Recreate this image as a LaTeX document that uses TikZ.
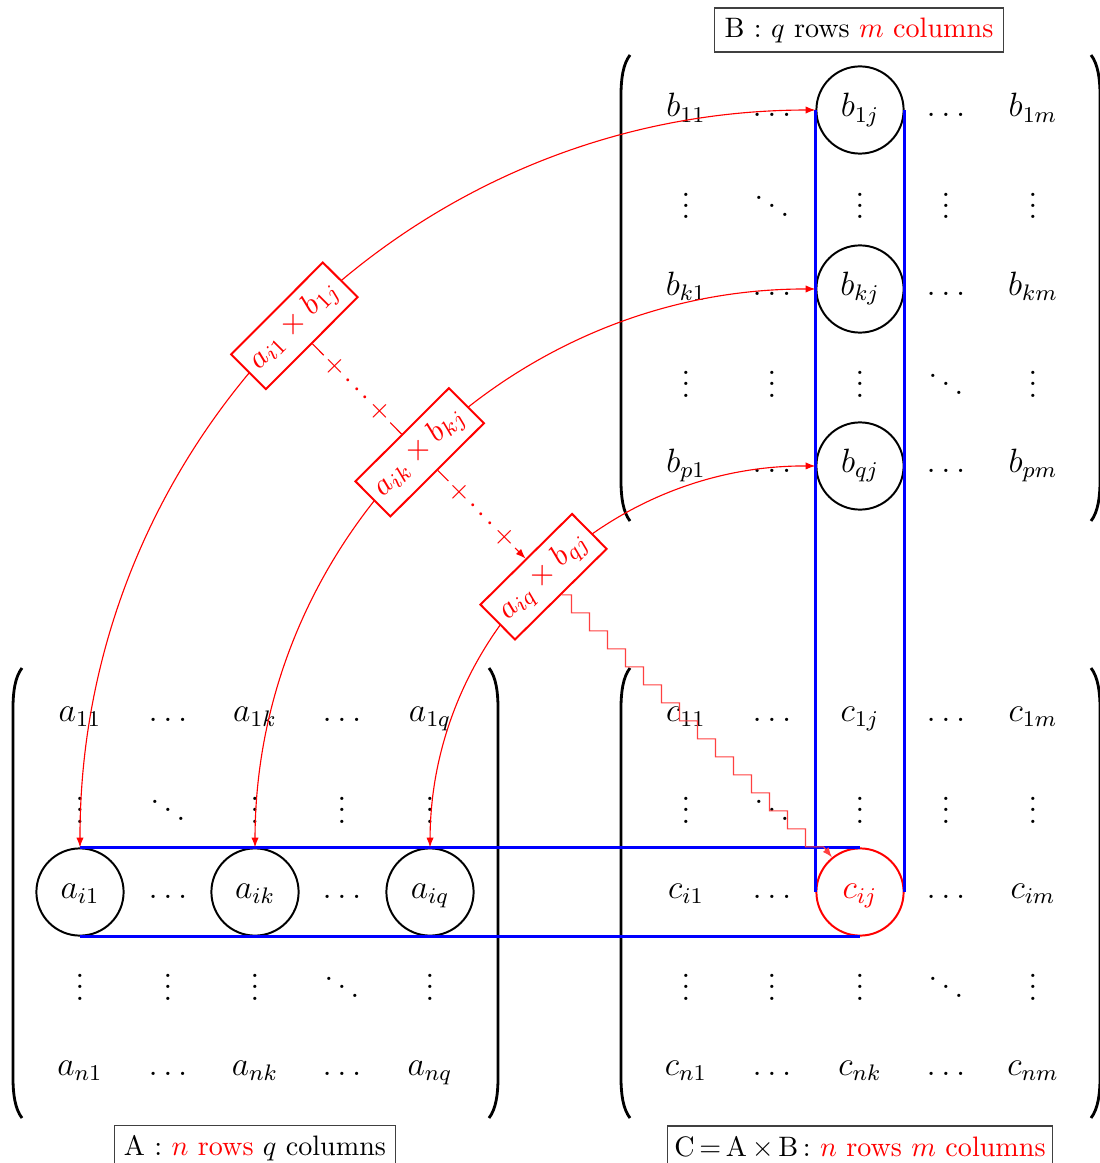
\documentclass[tikz,border=0pt]{standalone}
\usepackage{tikz}
\usetikzlibrary{arrows.meta, calc}
\usepackage{amsmath}

\begin{document}
\begin{tikzpicture}[>={Latex[length=3.5pt, width=2.6pt]}, x=0.0125cm, y=-0.0125cm]
\tikzset{
  entry/.style={font=\large, inner sep=0pt, anchor=base},
  sel/.style={circle, draw, line width=0.7pt, minimum size=1.09cm, inner sep=0pt},
  prod/.style={draw=red, line width=0.7pt, fill=white, text=red, font=\fontsize{11}{13}\selectfont, minimum height=0.6cm, inner xsep=3pt, sloped},
  sumdots/.style={fill=white, text=red, inner sep=1.5pt, sloped},
  lab/.style={draw=black!75, line width=0.4pt, minimum height=0.55cm, inner xsep=3.5pt},
  band/.style={blue, line width=0.8pt},
}
\useasboundingbox (0,0) rectangle (1099,1163);
% delimiters
\foreach \xa/\xb/\ya/\yb in {13/498/668/1118, 621/1100/55/521, 621/1100/668/1118} {
  \draw[line width=1pt] (\xa+9,\ya) .. controls (\xa+2,\ya+9) and (\xa,\ya+24) .. (\xa,\ya+40)
    -- (\xa,\yb-40) .. controls (\xa,\yb-24) and (\xa+2,\yb-9) .. (\xa+9,\yb);
  \draw[line width=1pt] (\xb-9,\ya) .. controls (\xb-2,\ya+9) and (\xb,\ya+24) .. (\xb,\ya+40)
    -- (\xb,\yb-40) .. controls (\xb,\yb-24) and (\xb-2,\yb-9) .. (\xb-9,\yb);
}
% matrix A
\foreach \y/\rw/\ea/\eb/\ec/\ed/\ee in {
  721/1/a_{11}/\ldots/a_{1k}/\ldots/a_{1q},
  823/2/\vdots/\ddots/\vdots/\vdots/\vdots,
  898/3/a_{i1}/\ldots/a_{ik}/\ldots/a_{iq},
  1000/4/\vdots/\vdots/\vdots/\ddots/\vdots,
  1075/5/a_{n1}/\ldots/a_{nk}/\ldots/a_{nq}} {
  \foreach \x/\e [count=\cl] in {80/\ea, 168/\eb, 255/\ec, 342/\ed, 430/\ee}
    \node[entry] (A-\rw-\cl) at (\x,\y) {$\e$};
}
% matrix B
\foreach \y/\rw/\ea/\eb/\ec/\ed/\ee in {
  117/1/b_{11}/\ldots/b_{1j}/\ldots/b_{1m},
  219/2/\vdots/\ddots/\vdots/\vdots/\vdots,
  295/3/b_{k1}/\ldots/b_{kj}/\ldots/b_{km},
  397/4/\vdots/\vdots/\vdots/\ddots/\vdots,
  472/5/b_{p1}/\ldots/b_{qj}/\ldots/b_{pm}} {
  \foreach \x/\e [count=\cl] in {686/\ea, 772/\eb, 860/\ec, 946/\ed, 1033/\ee}
    \node[entry] (B-\rw-\cl) at (\x,\y) {$\e$};
}
% matrix C
\foreach \y/\rw/\ea/\eb/\ec/\ed/\ee in {
  721/1/c_{11}/\ldots/c_{1j}/\ldots/c_{1m},
  823/2/\vdots/\ddots/\vdots/\vdots/\vdots,
  898/3/c_{i1}/\ldots/\color{red}c_{ij}/\ldots/c_{im},
  1000/4/\vdots/\vdots/\vdots/\ddots/\vdots,
  1075/5/c_{n1}/\ldots/c_{nk}/\ldots/c_{nm}} {
  \foreach \x/\e [count=\cl] in {686/\ea, 772/\eb, 860/\ec, 946/\ed, 1033/\ee}
    \node[entry] (C-\rw-\cl) at (\x,\y) {$\e$};
}
% circled entries
\node[sel] (ai1) at ($(A-3-1.base)+(0,-6)$) {};
\node[sel] (aik) at ($(A-3-3.base)+(0,-6)$) {};
\node[sel] (aiq) at ($(A-3-5.base)+(0,-6)$) {};
\node[sel] (b1j) at ($(B-1-3.base)+(0,-7)$) {};
\node[sel] (bkj) at ($(B-3-3.base)+(0,-6)$) {};
\node[sel] (bqj) at ($(B-5-3.base)+(0,-6)$) {};
\node[sel, draw=red] (cij) at ($(C-3-3.base)+(0,-6)$) {};
% row i and column j
\draw[band] (ai1.north) -- (cij.north);
\draw[band] (ai1.south) -- (cij.south);
\draw[band] (b1j.west) -- (cij.west);
\draw[band] (b1j.east) -- (cij.east);
% products
\draw[red, <->] (ai1.north) to[bend left=45] node[prod] (p1) {$a_{i1}\times b_{1j}$} (b1j.west);
\draw[red, <->] (aik.north) to[bend left=45] node[prod] (p2) {$a_{ik}\times b_{kj}$} (bkj.west);
\draw[red, <->] (aiq.north) to[bend left=45] node[prod] (p3) {$a_{iq}\times b_{qj}$} (bqj.west);
\draw[red] (p1.south) -- node[sumdots] {$+\cdots+$} (p2.north);
\draw[red, ->] (p2.south) -- node[sumdots] {$+\cdots+$} (p3.north);
\draw[red!75, ->] (p3.south) -- ++(10,0) foreach \k in {1,...,14} { |- ++(18,18) } -- (cij);
% captions
\node[lab] (labB) at (859,30) {B : $q$ rows \textcolor{red}{$m$ columns}};
\node[lab] (labA) at (255,1148) {A : \textcolor{red}{$n$ rows} $q$ columns};
\node[lab, inner xsep=2.5pt] (labC) at (860,1148) {C\,=\,A\,$\times$\,B\,: \textcolor{red}{$n$ rows $m$ columns}};
\end{tikzpicture}
\end{document}
